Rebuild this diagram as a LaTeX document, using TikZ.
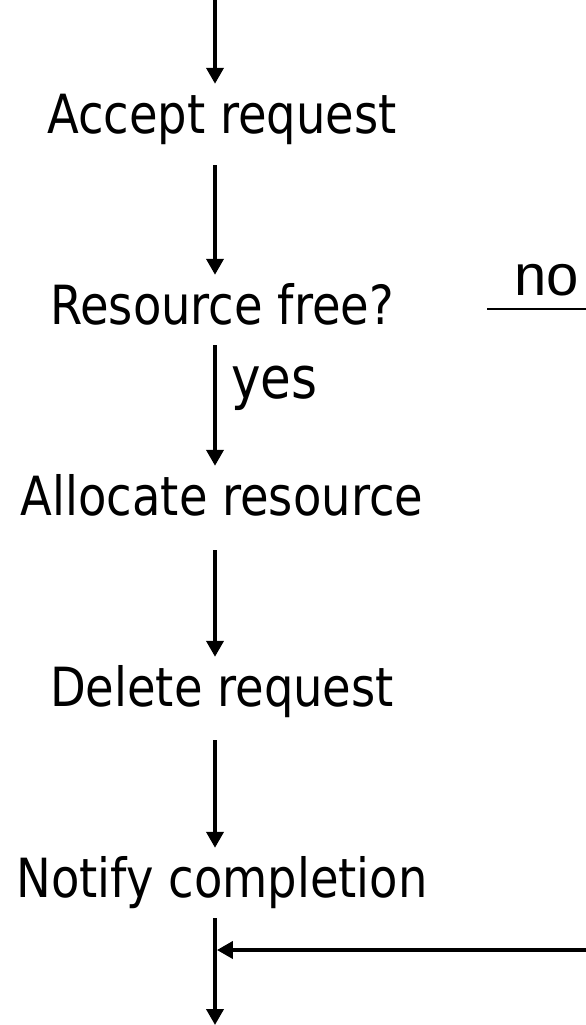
\documentclass[tikz,border=0pt]{standalone}
\usepackage{fontspec}
\setmainfont{DejaVu Sans}[FakeStretch=0.86]
\newfontfamily\nofont{Liberation Sans}
\usetikzlibrary{arrows.meta}
\tikzstyle{flowtext} = [text height=39pt, text depth=11pt, inner xsep=0pt, inner ysep=10pt, font=\fontsize{54pt}{60pt}\selectfont]
\tikzstyle{arrow} = [line width=3.8pt, -{Triangle[width=17pt,length=16pt]}]
\tikzstyle{noline} = [line width=1.5pt]

\begin{document}
\begin{tikzpicture}[x=1pt, y=1pt, node distance=191pt]
\useasboundingbox (0,0) rectangle (586,-1025);

% Column - the steps
\node (accept) [flowtext] at (222,-119) {Accept request};
\node (resfree) [flowtext, below of=accept] {Resource free?};
\node (alloc) [flowtext, below of=resfree] {Allocate resource};
\node (delreq) [flowtext, below of=alloc] {Delete request};
\node (notify) [flowtext, below of=delreq] {Notify completion};

% Branch labels
\node (yeslabel) [flowtext, anchor=base west, font=\fontsize{58pt}{60pt}\selectfont] at (231,-398) {yes};
\node (nolabel) [anchor=base, inner sep=0pt, font=\nofont\fontsize{58pt}{60pt}\selectfont] at (547,-295) {no};

% Free ends
\coordinate (entry) at (215,0);
\coordinate (exit) at (215,-1025);
\coordinate (nostart) at (487,-309);
\coordinate (noend) at (586,-309);
\coordinate (rejoin) at (586,-950);

% Column - arrows
\draw [arrow] (entry) -- (accept.north -| entry);
\draw [arrow, shorten <=11pt] (accept.south -| entry) -- (resfree.north -| entry);
\draw [arrow] (resfree.south -| entry) -- (alloc.north -| entry);
\draw [arrow, shorten <=14pt] (alloc.south -| entry) -- (delreq.north -| entry);
\draw [arrow, shorten <=13pt] (delreq.south -| entry) -- (notify.north -| entry);
\draw [arrow] (notify.south -| entry) -- (exit);

% Side branches
\draw [noline] (nostart) -- (noend);
\draw [arrow, shorten >=1.9pt] (rejoin) -- (rejoin -| entry);

\end{tikzpicture}
\end{document}
